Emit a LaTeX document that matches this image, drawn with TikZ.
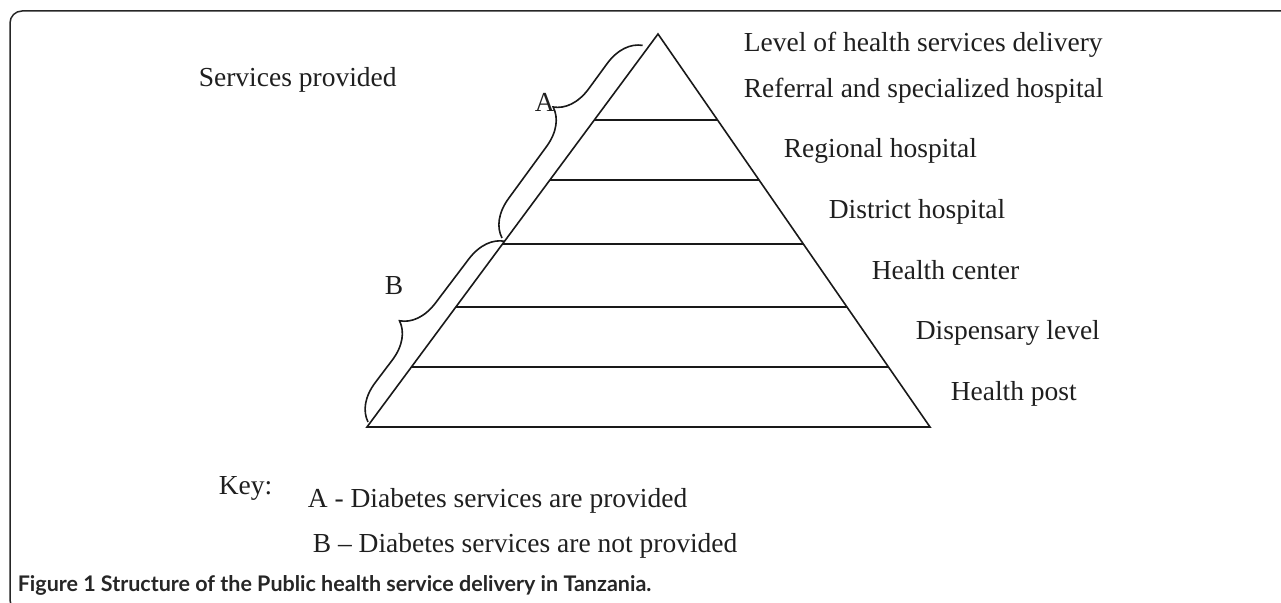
\documentclass[tikz,border=0pt]{standalone}
\usepackage{fontspec}
\setmainfont{Liberation Serif}
\newfontfamily\capfont{Lato}
\usetikzlibrary{calc,decorations.pathreplacing}

\begin{document}
\begin{tikzpicture}[x=0.5pt,y=-0.5pt,line width=0.8pt,
        txt/.style={inner sep=0pt,anchor=base west,text=black!88,font=\fontsize{13.75}{16}\selectfont},
        layer/.style={draw=black!90},
        bracket/.style={draw=black!90,decorate,decoration={brace,amplitude=18pt}}]
        \useasboundingbox (0,0) rectangle (1281,603);
        \clip (0,0) rectangle (1281,603);
        % frame
        \draw[black!85,line width=0.75pt,rounded corners=6pt] (1300,11) -- (10,11) -- (10,612) -- (40,612);

        % pyramid
        \coordinate (apex) at (658,34);
        \coordinate (baseL) at (367,427);
        \coordinate (baseR) at (930,427);
        \draw[layer,line join=miter] (apex) -- (baseL) -- (baseR) -- cycle;
        \foreach \t/\n in {0.2188/1,0.3715/2,0.5344/3,0.6947/4,0.8473/5}{
            \coordinate (l\n) at ($(apex)!\t!(baseL)$);
            \coordinate (r\n) at ($(apex)!\t!(baseR)$);
            \draw[layer] (l\n) -- (r\n);
        }

        % braces
        \coordinate (a0) at (502,238);
        \coordinate (a1) at (643,45);
        \coordinate (b0) at (368,422);
        \coordinate (b1) at (505,241);
        \draw[bracket,decoration={aspect=0.57}] (a0) -- (a1);
        \draw[bracket,decoration={aspect=0.44}] (b0) -- (b1);
        \node[txt] (A) at (534,112) {A};
        \node[txt] (B) at (384,295) {B};

        \node[txt] (services) at (198,87) {Services provided};
        \node[txt] (levels) at (743,52) {Level of health services delivery};
        \node[txt] (referral) at (743,98) {Referral and specialized hospital};
        \node[txt] (regional) at (783,158) {Regional hospital};
        \node[txt] (district) at (828,219) {District hospital};
        \node[txt] (center) at (871,280) {Health center};
        \node[txt] (dispensary) at (915,340) {Dispensary level};
        \node[txt] (post) at (950,401) {Health post};

        % key
        \node[txt] (key) at (218,495) {Key:};
        \node[txt] (keyA) at (307,508) {A - Diabetes services are provided};
        \node[txt] (keyB) at (312,553) {B -- Diabetes services are not provided};

        \node[inner sep=0pt,anchor=base west,text=black!85,font=\capfont\bfseries\fontsize{10.75}{13}\selectfont] (caption) at (17,592)
            {Figure 1 Structure of the Public health service delivery in Tanzania.};
\end{tikzpicture}
\end{document}
